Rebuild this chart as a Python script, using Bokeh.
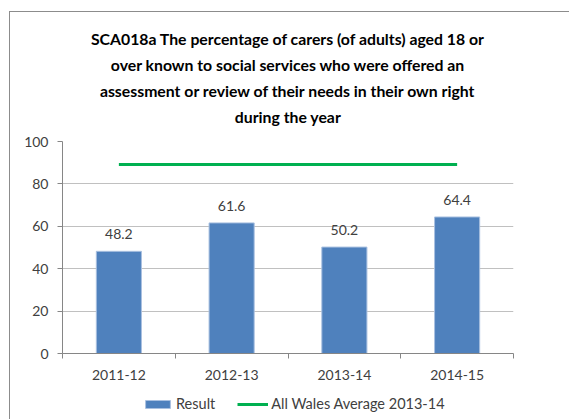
from bokeh.plotting import figure
from bokeh.layouts import column
from bokeh.models import (FixedTicker, Legend, LegendItem, Title,
                          ColumnDataSource, Range1d)
from bokeh.core.properties import value
from bokeh.embed import file_html
from bokeh.resources import INLINE

categories = ["2011-12", "2012-13", "2013-14", "2014-15"]
results = [48.2, 61.6, 50.2, 64.4]
wales_avg = 89.2
y_ticks = [0, 20, 40, 60, 80, 100]
title_lines = [
    "SCA018a The percentage of carers (of adults) aged 18 or",
    "over known to social services who were offered an",
    "assessment or review of their needs in their own right",
    "during the year",
]
legend_labels = ["Result", "All Wales Average 2013-14"]

FONT = "Lato"
BAR_COLOR = "#4f81bd"
BAR_EDGE = "#a9c0e0"
AVG_COLOR = "#00b050"
BORDER = "1px solid #8c8c8c"
W = 560
H1, H2 = 380, 28

p = figure(width=W, height=H1, output_backend="svg", toolbar_location=None,
           x_range=Range1d(0, len(categories)), y_range=Range1d(0, 100),
           min_border_left=52, min_border_right=57, min_border_top=129,
           min_border_bottom=39)
p.styles = {"margin-left": "9px", "margin-top": "11px",
            "border-left": BORDER, "border-top": BORDER}

p.title.text = ""
# spacer between the chart frame and the title block
p.add_layout(Title(text=" ", text_font_size="10px", standoff=0), "above")
for line in reversed(title_lines):
    p.add_layout(Title(text=line, align="center", text_font=FONT,
                       text_font_size="15.8px", text_font_style="bold",
                       text_color="#000000", standoff=4.5, offset=-9), "above")

p.outline_line_color = None
p.background_fill_color = "white"
p.border_fill_color = "white"

xs = [i + 0.5 for i in range(len(categories))]
src = ColumnDataSource(dict(x=xs, top=results,
                            label=["%.1f" % v for v in results]))

p.vbar(x="x", top="top", bottom=0, width=0.4, source=src,
       fill_color=BAR_COLOR, line_color=BAR_EDGE, line_width=1)
p.text(x="x", y="top", text="label", source=src, text_align="center",
       text_baseline="bottom", y_offset=-12, text_font=value(FONT),
       text_font_size="14px", text_color="#404040")

p.line(x=[xs[0], xs[-1]], y=[wales_avg, wales_avg],
       line_color=AVG_COLOR, line_width=3)

# axes
p.xaxis.ticker = FixedTicker(ticks=xs, minor_ticks=list(range(len(categories) + 1)))
p.xaxis.major_label_overrides = {x: c for x, c in zip(xs, categories)}
p.xaxis.major_tick_line_color = None
p.xaxis.minor_tick_line_color = "#868686"
p.xaxis.minor_tick_in = 0
p.xaxis.minor_tick_out = 5
p.xaxis.axis_line_color = "#868686"
p.xaxis.major_label_standoff = 10
p.xaxis.major_label_text_font = FONT
p.xaxis.major_label_text_font_size = "14px"
p.xaxis.major_label_text_color = "#404040"

p.yaxis.ticker = FixedTicker(ticks=y_ticks)
p.yaxis.minor_tick_line_color = None
p.yaxis.major_tick_in = 0
p.yaxis.major_tick_out = 5
p.yaxis.major_tick_line_color = "#868686"
p.yaxis.axis_line_color = "#868686"
p.yaxis.major_label_standoff = 9
p.yaxis.major_label_text_font = FONT
p.yaxis.major_label_text_font_size = "14px"
p.yaxis.major_label_text_color = "#404040"

p.xgrid.grid_line_color = None
p.ygrid.grid_line_color = "#c0c0c0"
p.ygrid.ticker = FixedTicker(ticks=y_ticks)

# legend strip
p2 = figure(width=W, height=H2, output_backend="svg", toolbar_location=None,
            x_range=Range1d(0, 1), y_range=Range1d(0, 1),
            x_axis_type=None, y_axis_type=None,
            min_border_left=0, min_border_right=0, min_border_top=0,
            min_border_bottom=0)
p2.styles = {"margin-left": "9px", "border-left": BORDER}
p2.outline_line_color = None
p2.xgrid.visible = False
p2.ygrid.visible = False
p2.background_fill_color = "white"
p2.border_fill_color = "white"
# legend key renderers: their data lies outside the strip's view
r_bar = p2.vbar(x=[-5], top=[-5], bottom=[-6], width=0.4, fill_color=BAR_COLOR,
                line_color=BAR_EDGE, line_width=1)
r_line = p2.line(x=[-5, -4], y=[-5, -5], line_color=AVG_COLOR, line_width=3)

legend = Legend(items=[LegendItem(label=legend_labels[0], renderers=[r_bar]),
                       LegendItem(label=legend_labels[1], renderers=[r_line])],
                orientation="horizontal", location=(80, 7),
                glyph_width=31, glyph_height=10, label_text_font=FONT,
                label_text_font_size="14.5px", label_text_color="#404040",
                label_standoff=3, spacing=22, padding=0, margin=0,
                border_line_color=None, background_fill_alpha=0)
p2.add_layout(legend, "center")

layout = column(p, p2, spacing=0)
open("out.html", "w").write(file_html(layout, INLINE))
